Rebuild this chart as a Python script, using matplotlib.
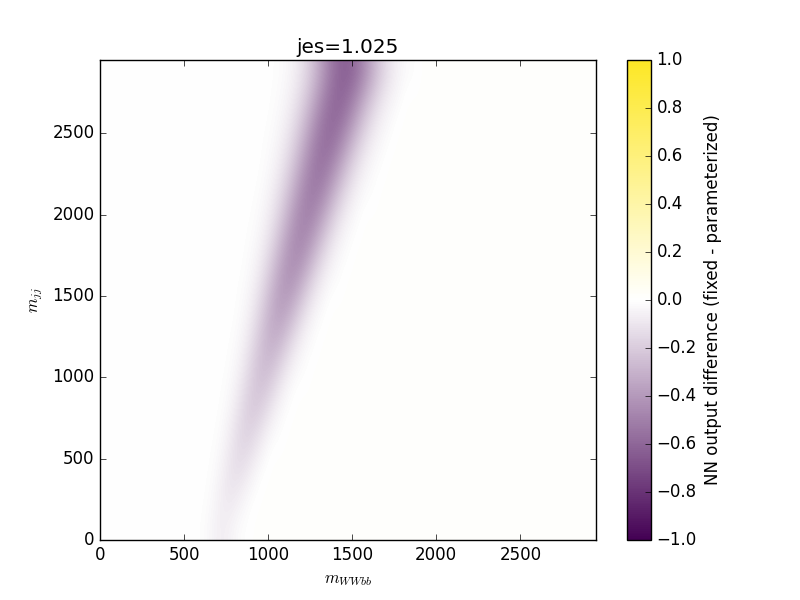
import matplotlib
matplotlib.use("Agg")
import matplotlib.pyplot as plt
import numpy as np
from matplotlib.colors import LinearSegmentedColormap

plt.style.use("classic")

# axis range of the scan (GeV)
mwwbb_max = 2950
mjj_max = 2950
n_cols = 59   # m_WWbb bins, 50 GeV each

# NN output difference, fixed - parameterized
# one entry per m_jj bin (16 bins, bottom to top): first m_WWbb bin of the
# band and the band values; left of the band ~0, right of it slightly positive
left_value = 0.0
right_value = 0.015
band_start = [11, 12, 12, 13, 14, 14, 15, 16, 16, 17, 17, 18, 19, 19, 20, 20]
band_values = [
    [-0.003, -0.016, -0.049, -0.07, -0.048, -0.015, -0.003],
    [-0.006, -0.03, -0.075, -0.10, -0.071, -0.027, -0.005],
    [-0.002, -0.014, -0.052, -0.11, -0.14, -0.104, -0.046, -0.012],
    [-0.005, -0.026, -0.077, -0.148, -0.18, -0.138, -0.067, -0.021, -0.004],
    [-0.011, -0.042, -0.108, -0.188, -0.22, -0.174, -0.093, -0.033, -0.008],
    [-0.004, -0.019, -0.062, -0.14, -0.226, -0.26, -0.208, -0.12, -0.048,
     -0.014, -0.003],
    [-0.009, -0.033, -0.091, -0.184, -0.277, -0.31, -0.254, -0.155, -0.07,
     -0.023, -0.006],
    [-0.016, -0.051, -0.126, -0.235, -0.338, -0.37, -0.306, -0.194, -0.094,
     -0.034, -0.01],
    [-0.007, -0.026, -0.074, -0.164, -0.285, -0.39, -0.418, -0.353, -0.235,
     -0.122, -0.05, -0.016, -0.004],
    [-0.013, -0.04, -0.10, -0.20, -0.328, -0.43, -0.458, -0.393, -0.271,
     -0.152, -0.068, -0.025, -0.007],
    [-0.005, -0.019, -0.053, -0.123, -0.233, -0.362, -0.463, -0.487, -0.42,
     -0.30, -0.176, -0.084, -0.033, -0.011],
    [-0.009, -0.028, -0.072, -0.152, -0.268, -0.398, -0.495, -0.517, -0.452,
     -0.331, -0.204, -0.105, -0.045, -0.016, -0.005],
    [-0.014, -0.038, -0.09, -0.179, -0.30, -0.432, -0.527, -0.546, -0.481,
     -0.36, -0.23, -0.124, -0.057, -0.022, -0.007],
    [-0.007, -0.021, -0.053, -0.113, -0.21, -0.336, -0.469, -0.559, -0.576,
     -0.512, -0.392, -0.26, -0.148, -0.073, -0.031, -0.011],
    [-0.011, -0.028, -0.066, -0.134, -0.237, -0.368, -0.494, -0.581, -0.596,
     -0.532, -0.415, -0.28, -0.167, -0.086, -0.039, -0.015],
    [-0.006, -0.016, -0.039, -0.084, -0.159, -0.27, -0.40, -0.524, -0.604,
     -0.615, -0.552, -0.437, -0.305, -0.186, -0.102, -0.048, -0.02, -0.008],
]

cbar_ticks = [-1.0, -0.8, -0.6, -0.4, -0.2, 0.0, 0.2, 0.4, 0.6, 0.8, 1.0]
axis_ticks = [0, 500, 1000, 1500, 2000, 2500]

rows = []
for start, vals in zip(band_start, band_values):
    row = [left_value] * start + vals
    row += [right_value] * (n_cols - len(row))
    rows.append(row)
diff = np.array(rows)

cmap = LinearSegmentedColormap.from_list("purple_white_yellow",
                                         ["#440154", "#ffffff", "#fde725"])

fig = plt.figure(figsize=(8, 6))
ax = fig.add_subplot(111)
im = ax.imshow(diff, origin="lower", extent=[0, mwwbb_max, 0, mjj_max],
               aspect="auto", cmap=cmap, vmin=-1, vmax=1,
               interpolation="bicubic")
ax.set_xlim(0, mwwbb_max)
ax.set_ylim(0, mjj_max)
ax.set_xticks(axis_ticks)
ax.set_yticks(axis_ticks)
ax.set_title("jes=1.025")
ax.set_xlabel(r"$m_{WWbb}$")
ax.set_ylabel(r"$m_{jj}$")

cb = fig.colorbar(im, ax=ax, ticks=cbar_ticks)
cb.set_label("NN output difference (fixed - parameterized)")

fig.savefig("out.png", dpi=100)
